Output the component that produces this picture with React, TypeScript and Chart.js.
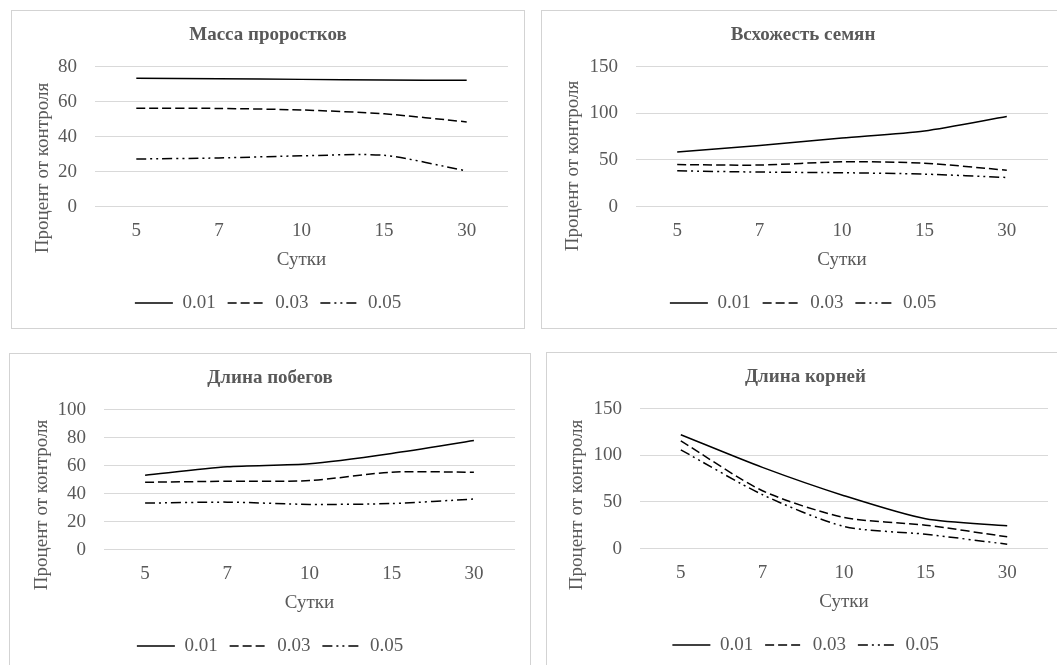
import React, { useEffect, useRef } from 'react';
import { Chart, registerables } from 'chart.js';

Chart.register(...registerables);

// ---- data ----
const days = ['5', '7', '10', '15', '30'];
const seriesNames = ['0.01', '0.03', '0.05'];

const massa001 = [73.3, 73.0, 72.7, 72.3, 72.2];
const massa003 = [56.2, 56.1, 55.2, 53.0, 48.4];
const massa005 = [27.2, 27.8, 29.0, 29.3, 20.4];

const vskh001 = [58.5, 65.5, 73.5, 81.0, 96.5];
const vskh003 = [45.0, 44.5, 48.0, 46.5, 39.0];
const vskh005 = [38.3, 37.0, 36.3, 34.8, 31.2];

const pobeg001 = [53.1, 59.1, 61.3, 68.7, 77.9];
const pobeg003 = [48.1, 48.8, 49.3, 55.3, 55.3];
const pobeg005 = [33.2, 33.9, 32.3, 32.9, 36.1];

const koren001 = [122.0, 87.0, 56.7, 31.9, 24.4];
const koren003 = [115.5, 62.0, 33.4, 25.1, 12.6];
const koren005 = [105.8, 57.8, 23.7, 15.4, 4.7];

const titles = ['Масса проростков', 'Всхожесть семян', 'Длина побегов', 'Длина корней'];
const yMax = [80, 150, 100, 150];
const yStep = [20, 50, 20, 50];
const xTitle = 'Сутки';
const yTitle = 'Процент от контроля';

// ---- styling ----
const FONT = '"Liberation Serif", "Times New Roman", serif';
const FS = 19;
const TEXT = '#595959';
const GRID = '#d9d9d9';
const LINE = '#000000';
const DASHES: number[][] = [[], [9, 4], [10, 4, 2, 4, 2, 4]];

type Layout = {
  left: number; top: number; width: number; height: number;
  padL: number; padR: number; yw: number; ytx: number; yty: number;
};

const layouts: Layout[] = [
  { left: 11, top: 10, width: 514, height: 319, padL: 16, padR: 16, yw: 67, ytx: 31, yty: 157 },
  { left: 541, top: 10, width: 524, height: 319, padL: 16, padR: 16, yw: 78, ytx: 31, yty: 155 },
  { left: 9, top: 353, width: 522, height: 319, padL: 15, padR: 15, yw: 79, ytx: 32, yty: 151 },
  { left: 546, top: 352, width: 519, height: 319, padL: 16, padR: 16, yw: 77, ytx: 30.5, yty: 152 },
];

const panelSeries = [
  [massa001, massa003, massa005],
  [vskh001, vskh003, vskh005],
  [pobeg001, pobeg003, pobeg005],
  [koren001, koren003, koren005],
];

const yTitlePlugin = {
  id: 'yTitleCustom',
  afterDraw(chart: any, _args: any, opts: any) {
    const ctx = chart.ctx;
    ctx.save();
    ctx.fillStyle = TEXT;
    ctx.font = `${FS}px ${FONT}`;
    ctx.textAlign = 'center';
    ctx.textBaseline = 'middle';
    ctx.translate(opts.x, opts.y);
    ctx.rotate(-Math.PI / 2);
    ctx.fillText(opts.text, 0, 0);
    ctx.restore();
  },
};

function Panel({ idx }: { idx: number }) {
  const ref = useRef<HTMLCanvasElement | null>(null);
  const L = layouts[idx];
  const cw = L.width - 2;
  const ch = L.height - 2;

  useEffect(() => {
    if (!ref.current) return;
    const font = { family: FONT, size: FS, lineHeight: 1.2 };
    const chart = new Chart(ref.current, {
      type: 'line',
      data: {
        labels: days,
        datasets: panelSeries[idx].map((vals, i) => ({
          label: seriesNames[i],
          data: vals,
          borderColor: LINE,
          backgroundColor: LINE,
          borderWidth: 1.5,
          borderDash: DASHES[i],
          pointRadius: 0,
          pointHoverRadius: 0,
          tension: 0.25,
          fill: false,
        })),
      },
      options: {
        responsive: false,
        animation: false,
        devicePixelRatio: 1,
        events: [],
        layout: { padding: { left: L.padL, right: L.padR, top: 0, bottom: 5.5 } },
        plugins: {
          title: {
            display: true,
            text: titles[idx],
            color: TEXT,
            font: { family: FONT, size: FS, weight: 'bold', lineHeight: 1.2 },
            padding: { top: 12.6, bottom: 20.2 },
          },
          legend: {
            position: 'bottom',
            labels: {
              usePointStyle: true,
              pointStyle: 'line',
              pointStyleWidth: 38,
              padding: 12,
              color: TEXT,
              font,
              generateLabels: (c: any) =>
                c.data.datasets.map((ds: any, i: number) => ({
                  text: ds.label,
                  fillStyle: 'rgba(0,0,0,0)',
                  strokeStyle: ds.borderColor,
                  lineWidth: 1.5,
                  lineDash: ds.borderDash,
                  lineCap: 'butt',
                  pointStyle: 'line',
                  fontColor: TEXT,
                  hidden: false,
                  datasetIndex: i,
                })),
            },
          },
          tooltip: { enabled: false },
          yTitleCustom: { text: yTitle, x: L.ytx, y: L.yty },
        } as any,
        scales: {
          x: {
            offset: true,
            grid: { display: false, drawTicks: false },
            border: { display: false },
            ticks: { color: TEXT, font, padding: 12.9, maxRotation: 0 },
            title: { display: true, text: xTitle, color: TEXT, font, padding: { top: 0, bottom: 10.1 } },
            afterFit: (s: any) => { s.height = 74.9; },
          },
          y: {
            min: 0,
            max: yMax[idx],
            grid: { color: GRID, lineWidth: 1, drawTicks: false },
            border: { display: false },
            ticks: { stepSize: yStep[idx], color: TEXT, font, padding: 18 },
            afterFit: (s: any) => { s.width = L.yw; },
          },
        },
      } as any,
      plugins: [yTitlePlugin],
    });
    return () => chart.destroy();
  }, [idx]);

  return (
    <div
      style={{
        position: 'absolute',
        left: L.left,
        top: L.top,
        width: L.width,
        height: L.height,
        boxSizing: 'border-box',
        border: '1px solid #d3d3d3',
        background: '#ffffff',
      }}
    >
      <canvas ref={ref} width={cw} height={ch} style={{ display: 'block', width: cw, height: ch }} />
    </div>
  );
}

export default function App() {
  return (
    <div
      style={{
        position: 'fixed',
        left: 0,
        top: 0,
        width: 1057,
        height: 665,
        overflow: 'hidden',
        background: '#ffffff',
      }}
    >
      {[0, 1, 2, 3].map((i) => (
        <Panel key={i} idx={i} />
      ))}
    </div>
  );
}
